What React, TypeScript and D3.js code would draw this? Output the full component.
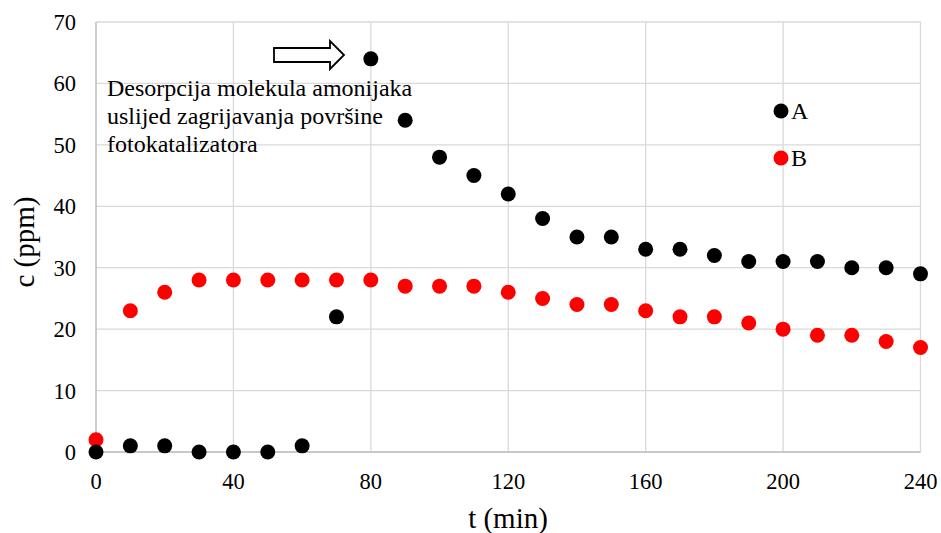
import React from "react";
import * as d3 from "d3";

const times = [0,10,20,30,40,50,60,70,80,90,100,110,120,130,140,150,160,170,180,190,200,210,220,230,240];
const seriesA = [0,1,1,0,0,0,1,22,64,54,48,45,42,38,35,35,33,33,32,31,31,31,30,30,29];
const seriesB = [2,23,26,28,28,28,28,28,28,27,27,27,26,25,24,24,23,22,22,21,20,19,19,18,17];
const xTicks = [0,40,80,120,160,200,240];
const yTicks = [0,10,20,30,40,50,60,70];
const annotationLines = ["Desorpcija molekula amonijaka", "uslijed zagrijavanja površine", "fotokatalizatora"];

const W = 941, H = 533;
const left = 96, right = 920.5, top = 22, bottom = 452;
const FONT = '"Liberation Serif"';

export default function App() {
  const x = d3.scaleLinear().domain([0, 240]).range([left, right]);
  const y = d3.scaleLinear().domain([0, 70]).range([bottom, top]);
  const r = 7.5;

  const ax0 = 274, ax1 = 330, axTip = 344, ay = 55;
  const arrowPath = `M${ax0},${ay-7} L${ax1},${ay-7} L${ax1},${ay-14} L${axTip},${ay} L${ax1},${ay+14} L${ax1},${ay+7} L${ax0},${ay+7} Z`;

  const ts = { fontFamily: FONT } as React.CSSProperties;

  return (
    <svg width={W} height={H} style={{ position: "absolute", left: 0, top: 0, background: "#fff" }}>
      <rect x={0} y={0} width={W} height={H} fill="#fff" />
      {yTicks.map(t => (
        <line key={"gy"+t} x1={left} x2={right} y1={y(t)} y2={y(t)} stroke="#d9d9d9" strokeWidth={1.3} />
      ))}
      {xTicks.map(t => (
        <line key={"gx"+t} x1={x(t)} x2={x(t)} y1={top} y2={bottom} stroke="#d9d9d9" strokeWidth={1.3} />
      ))}
      <line x1={left} x2={left} y1={top} y2={bottom} stroke="#bfbfbf" strokeWidth={1.3} />
      <line x1={left} x2={right} y1={bottom} y2={bottom} stroke="#bfbfbf" strokeWidth={1.3} />
      {yTicks.map(t => (
        <text key={"ty"+t} x={76} y={y(t) + 8} textAnchor="end" style={ts} fontSize={22.5} fill="#000">{t}</text>
      ))}
      {xTicks.map(t => (
        <text key={"tx"+t} x={x(t)} y={488.5} textAnchor="middle" style={ts} fontSize={22.5} fill="#000">{t}</text>
      ))}
      <text x={508} y={528} textAnchor="middle" style={ts} fontSize={29} fill="#000">t (min)</text>
      <text transform={`translate(34,${242}) rotate(-90)`} textAnchor="middle" style={ts} fontSize={29} fill="#000">c (ppm)</text>
      {times.map((t, i) => (
        <circle key={"b"+i} cx={x(t)} cy={y(seriesB[i])} r={r} fill="#ff0000" />
      ))}
      {times.map((t, i) => (
        <circle key={"a"+i} cx={x(t)} cy={y(seriesA[i])} r={r} fill="#000" />
      ))}
      <path d={arrowPath} fill="#fff" stroke="#000" strokeWidth={1.8} />
      {annotationLines.map((s, i) => (
        <text key={"an"+i} x={107} y={96 + i * 28} style={ts} fontSize={24} fill="#000">{s}</text>
      ))}
      <circle cx={781} cy={111} r={r} fill="#000" />
      <text x={791} y={119} style={ts} fontSize={24} fill="#000">A</text>
      <circle cx={781} cy={158} r={r} fill="#ff0000" />
      <text x={791} y={166} style={ts} fontSize={24} fill="#000">B</text>
    </svg>
  );
}
